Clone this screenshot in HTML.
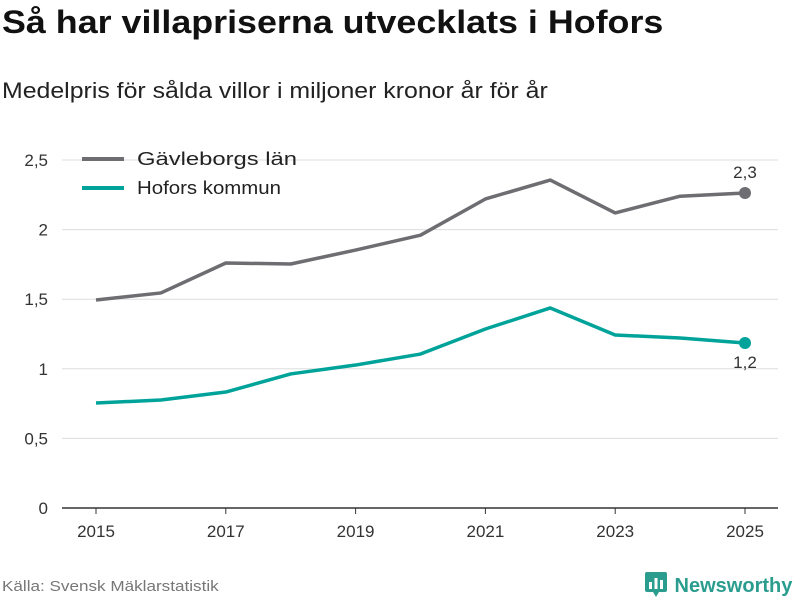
<!DOCTYPE html>
<html><head><meta charset="utf-8"><style>
body{margin:0;width:800px;height:600px;background:#fff;font-family:"Liberation Sans","DejaVu Sans",sans-serif;overflow:hidden;position:relative}
#title{position:absolute;left:2px;top:4px;font-size:32px;font-weight:bold;color:#111;transform:scaleX(1.12);transform-origin:0 0;white-space:nowrap}
#sub{position:absolute;left:2px;top:78px;font-size:22px;color:#222;transform:scaleX(1.13);transform-origin:0 0;white-space:nowrap}
#src{position:absolute;left:2px;top:578px;font-size:15px;color:#777;transform:scaleX(1.14);transform-origin:0 0;white-space:nowrap}
#logo{position:absolute;left:645px;top:570px;font-size:20px;font-weight:bold;color:#2a9d8f}
</style></head><body>
<div id="title">Så har villapriserna utvecklats i Hofors</div>
<div id="sub">Medelpris för sålda villor i miljoner kronor år för år</div>
<svg id="chart" width="800" height="600" style="position:absolute;left:0;top:0"></svg>
<div id="src">Källa: Svensk Mäklarstatistik</div>
<div id="logo"><svg width="24" height="28" style="vertical-align:-6px"><rect x="0" y="2" width="22" height="20" rx="2" fill="#2a9d8f"/><polygon points="8,22 14,22 11,27" fill="#2a9d8f"/><rect x="4" y="12" width="3" height="7" fill="#fff"/><rect x="9.5" y="8" width="3" height="11" fill="#fff"/><rect x="15" y="10" width="3" height="9" fill="#fff"/></svg> Newsworthy</div>
<script>
const years=[2015,2016,2017,2018,2019,2020,2021,2022,2023,2024,2025];
const gavleborg=[1.494,1.545,1.76,1.753,1.853,1.96,2.22,2.356,2.12,2.24,2.263];
const hofors=[0.754,0.776,0.833,0.963,1.027,1.106,1.286,1.437,1.243,1.221,1.185];
const yTicks=[0,0.5,1,1.5,2,2.5];
const yTickLabels=["0","0,5","1","1,5","2","2,5"];
const xTicks=[2015,2017,2019,2021,2023,2025];
const ns="http://www.w3.org/2000/svg";
const svg=document.getElementById('chart');
const X=v=>96+(v-2015)*64.9;
const Y=v=>508-v*139.2;
function mk(t,a){const e=document.createElementNS(ns,t);for(const k in a)e.setAttribute(k,a[k]);svg.appendChild(e);return e;}
yTicks.forEach((t,i)=>{
 const g=mk('line',{x1:62,x2:778,y1:Y(t),y2:Y(t),stroke:t===0?'#333':'#ddd','stroke-width':t===0?1.5:1});
 
 
 const l=mk('text',{x:48,y:Y(t)+6,'text-anchor':'end','font-size':17,fill:'#333'});l.textContent=yTickLabels[i];
 
 
});
xTicks.forEach(t=>{
 const tk=mk('line',{x1:X(t),x2:X(t),y1:508,y2:514,stroke:'#333'});
 
 
 const l=mk('text',{x:X(t),y:537,'text-anchor':'middle','font-size':17,fill:'#333'});l.textContent=t;
 
 
});
function series(vals,color,name,label,dy){
 const p=mk('polyline',{points:vals.map((v,i)=>X(years[i])+','+Y(v)).join(' '),fill:'none',stroke:color,'stroke-width':3.5,'stroke-linejoin':'round'});
 
 
 const n=vals.length-1;
 const c=mk('circle',{cx:X(years[n]),cy:Y(vals[n]),r:6,fill:color});
 
 
 const t=mk('text',{x:X(years[n]),y:Y(vals[n])+dy,'text-anchor':'middle','font-size':17,fill:'#333'});
 t.textContent=label(vals[n]);
 
 
}
const fmt=v=>v.toFixed(1).replace('.',',');
series(gavleborg,'#6e6d72','gavleborg',fmt,-15);
series(hofors,'#00a39a','hofors',fmt,25);
[['Gävleborgs län','#6e6d72',159,160],['Hofors kommun','#00a39a',188,144]].forEach(([n,c,y,w])=>{
 const l=mk('line',{x1:82,x2:124,y1:y,y2:y,stroke:c,'stroke-width':4});
 
 
 const t=mk('text',{x:137,y:y+6,'font-size':18,fill:'#222',textLength:w,lengthAdjust:'spacingAndGlyphs'});t.textContent=n;
 
 
});
</script>
</body></html>
